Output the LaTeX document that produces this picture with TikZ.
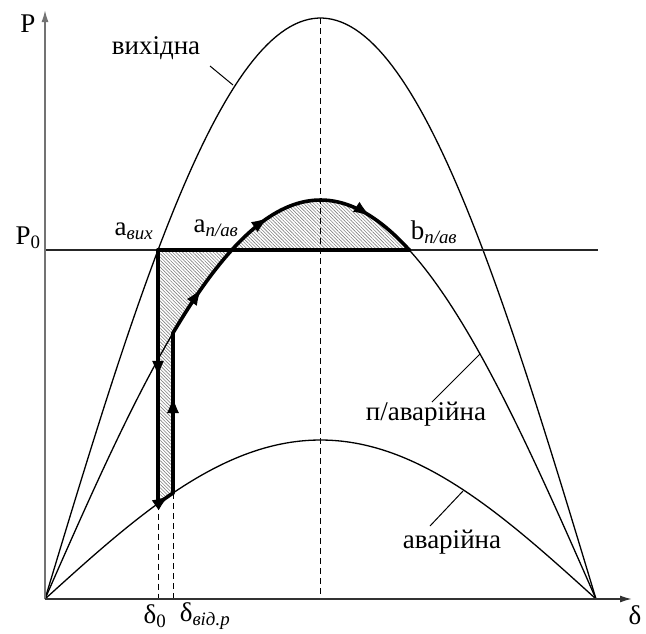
\documentclass[tikz,border=0pt]{standalone}
\usepackage{fontspec}
\setmainfont{Liberation Serif}
\usetikzlibrary{arrows.meta,patterns.meta,decorations.markings}
\begin{document}
\begin{tikzpicture}[x=1pt,y=-1pt,
  thin curve/.style={line width=1.3pt},
  thick path/.style={line width=3.6pt,line cap=round},
  axis/.style={line width=1.6pt,draw=black!55},
  dash line/.style={line width=1pt,dash pattern=on 6pt off 4pt},
  lab/.style={font=\fontsize{27}{30}\selectfont,inner sep=0pt},
  leader/.style={line width=1pt},
  hatch/.style={pattern={Lines[angle=-45,distance=2.4pt,line width=0.6pt]},pattern color=black!50},
  bigtip/.tip={Latex[length=16pt,width=12pt]},
  tipat/.style={postaction={decorate},decoration={markings,mark=at position #1 with {\arrow[line width=1pt]{bigtip}}}}
]
\useasboundingbox (0,0) rectangle (646,633);
% hatched areas
\fill[hatch] (158,250) -- (158,503.5)
  -- plot[domain=158:173,samples=8] (\x,{599-159*sin((\x-45)/551*180)})
  -- (173,333)
  -- plot[domain=173:231.7,samples=20] (\x,{599-399*sin((\x-45)/551*180)}) -- cycle;
\fill[hatch] plot[domain=231.7:409.3,samples=50] (\x,{599-399*sin((\x-45)/551*180)}) -- cycle;
% dashed lines
\draw[dash line] (320.5,18) -- (320.5,599);
\draw[dash line] (158,503.5) -- (158,599);
\draw[dash line] (173,493) -- (173,599);
% curves
\draw[thin curve] plot[domain=45:596,samples=120] (\x,{599-581*sin((\x-45)/551*180)});
\draw[thin curve] plot[domain=45:596,samples=120] (\x,{599-399*sin((\x-45)/551*180)});
\draw[thin curve] plot[domain=45:596,samples=120] (\x,{599-159*sin((\x-45)/551*180)});
% P0 line
\draw[line width=2pt,draw=black!85] (45,250) -- (598,250);
% axes
\draw[axis,-{Latex[length=12pt,width=7pt]}] (45,599) -- (45,10);
\draw[line width=1.6pt,draw=black!80,-{Latex[length=12pt,width=7pt]}] (45,599) -- (632,599);
% thick path
\draw[thick path] (158,250) -- (409.3,250);
\draw[thick path,tipat=0.5] (158,250) -- (158,503.5);
\draw[thick path,tipat=0.7] plot[domain=158:173,samples=8] (\x,{599-159*sin((\x-45)/551*180)});
\draw[thick path,tipat=0.6] (173,493) -- (173,333);
\draw[thick path,
  postaction={decorate},
  decoration={markings,
    mark=at position 52pt with {\arrow[line width=1pt]{bigtip}},
    mark=at position 150pt with {\arrow[line width=1pt]{bigtip}},
    mark=at position 259pt with {\arrow[line width=1pt]{bigtip}}}]
  plot[domain=173:409.3,samples=60] (\x,{599-399*sin((\x-45)/551*180)});
% leaders
\draw[leader] (210,66) -- (233,85);
\draw[leader] (432,402) -- (480,354);
\draw[leader] (430,526) -- (463,491);
% labels
\node[lab] (P) at (28,24) {P};
\node[lab] (P0) at (28,238) {P\textsubscript{0}};
\node[lab] (d) at (635,615) {δ};
\node[lab] (d0) at (155,616) {δ\textsubscript{0}};
\node[lab] (dvr) at (205,616) {δ\textsubscript{\textit{від.р}}};
\node[lab] (aout) at (134,231) {a\textsubscript{\textit{вих}}};
\node[lab] (apa) at (216,228) {a\textsubscript{\textit{п/ав}}};
\node[lab] (bpa) at (434,232) {b\textsubscript{\textit{п/ав}}};
\node[lab] (vyh) at (156,48) {вихідна};
\node[lab] (pav) at (426,414) {п/аварійна};
\node[lab] (av) at (452,542) {аварійна};
\end{tikzpicture}
\end{document}
